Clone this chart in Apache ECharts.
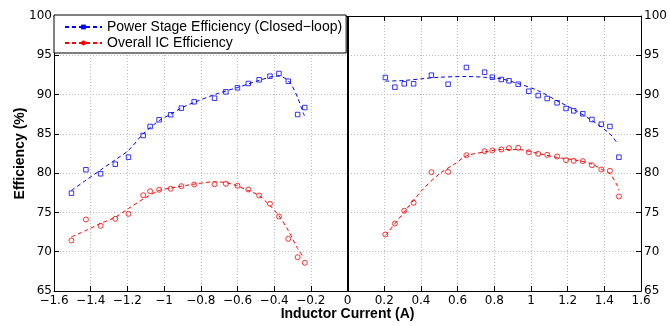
<!DOCTYPE html>
<html>
<head>
<meta charset="utf-8">
<script src="https://cdn.jsdelivr.net/npm/echarts@6/dist/echarts.min.js"></script>
<style>
  html, body { margin: 0; padding: 0; background: #fff; }
  #chart { width: 670px; height: 326px; }
</style>
</head>
<body>
<div id="chart"></div>
<script>
// ---- data ----
const seriesNames = ['Power Stage Efficiency (Closed\u2212loop)', 'Overall IC Efficiency'];

const leftCurrent = [-1.505, -1.426, -1.346, -1.266, -1.194, -1.114, -1.076, -1.027, -0.964, -0.906, -0.836, -0.725, -0.663, -0.600, -0.541, -0.482, -0.423, -0.374, -0.323, -0.272, -0.233];
const powerStageLeft = [77.45, 80.43, 79.92, 81.14, 82.03, 84.79, 85.94, 86.79, 87.43, 88.27, 89.08, 89.54, 90.35, 90.86, 91.41, 91.88, 92.34, 92.68, 91.70, 87.46, 88.35];
const overallLeft = [71.43, 74.10, 73.30, 74.19, 74.82, 77.19, 77.70, 77.88, 78.01, 78.34, 78.55, 78.59, 78.64, 78.39, 77.92, 77.15, 76.10, 74.48, 71.64, 69.30, 68.59];

const rightCurrent = [0.206, 0.258, 0.309, 0.360, 0.457, 0.548, 0.648, 0.747, 0.789, 0.838, 0.880, 0.930, 0.988, 1.039, 1.088, 1.142, 1.191, 1.233, 1.282, 1.332, 1.383, 1.430, 1.479];
const powerStageRight = [92.17, 90.94, 91.37, 91.37, 92.47, 91.32, 93.45, 92.85, 92.21, 91.92, 91.75, 91.32, 90.43, 89.88, 89.50, 88.95, 88.23, 87.93, 87.55, 86.83, 86.23, 85.94, 82.03];
const overallRight = [72.19, 73.59, 75.21, 76.23, 80.12, 80.17, 82.28, 82.79, 82.88, 83.01, 83.18, 83.23, 82.67, 82.46, 82.33, 82.12, 81.65, 81.57, 81.52, 81.01, 80.46, 80.30, 77.03];

// dashed fit curves
const powerFitLeftX = [-1.505, -1.426, -1.346, -1.266, -1.194, -1.114, -1.026, -0.964, -0.906, -0.836, -0.725, -0.600, -0.482, -0.410, -0.374, -0.330, -0.300, -0.270, -0.250, -0.235];
const powerFitLeftY = [77.8, 79.1, 80.4, 81.7, 82.9, 85.0, 86.7, 87.5, 88.3, 89.0, 90.0, 90.9, 91.8, 92.3, 92.35, 91.9, 91.0, 89.5, 88.2, 87.3];
const overallFitLeftX = [-1.505, -1.426, -1.346, -1.266, -1.194, -1.114, -1.026, -0.964, -0.836, -0.725, -0.663, -0.604, -0.542, -0.486, -0.424, -0.375, -0.323, -0.272, -0.240];
const overallFitLeftY = [71.9, 72.7, 73.6, 74.4, 75.5, 76.7, 77.8, 78.1, 78.6, 78.9, 78.8, 78.4, 77.8, 77.2, 75.9, 74.6, 72.7, 70.4, 69.3];
const powerFitRightX = [0.206, 0.309, 0.400, 0.500, 0.648, 0.747, 0.838, 0.930, 1.039, 1.142, 1.233, 1.332, 1.430, 1.470];
const powerFitRightY = [91.7, 91.8, 92.0, 92.2, 92.3, 92.2, 92.0, 91.4, 90.5, 89.2, 88.1, 86.7, 85.0, 83.8];
const overallFitRightX = [0.208, 0.307, 0.405, 0.500, 0.592, 0.648, 0.747, 0.838, 0.930, 1.039, 1.142, 1.233, 1.328, 1.380, 1.430, 1.466, 1.479];
const overallFitRightY = [72.1, 75.0, 77.8, 79.9, 81.3, 82.2, 82.7, 83.0, 83.0, 82.5, 82.0, 81.7, 81.2, 80.55, 79.9, 78.6, 77.8];

const xTicks = { min: -1.6, max: 1.6, step: 0.2 };
const yTicks = { min: 65, max: 100, step: 5 };

// ---- helpers ----
const pairs = (xs, ys) => xs.map((x, i) => [x, ys[i]]);
const BLUE = '#0000ff', RED = '#ff0000';
const FONT = "'Liberation Sans', Arial, Helvetica, sans-serif";
const TICKFONT = "'DejaVu Sans', 'Liberation Sans', sans-serif";
const fmtX = v => { const r = Math.round(v * 10) / 10; return (r < 0 ? '\u2212' : '') + Math.abs(r); };

function fitSeries(name, data, color, symbol) {
  return {
    name, type: 'line', data, smooth: 0.3,
    symbol, showSymbol: false, symbolSize: 5,
    lineStyle: { color, width: 1, type: [4, 3] },
    itemStyle: { color, borderColor: color },
    silent: true, animation: false, z: 2
  };
}
function pointSeries(name, data, color, symbol, size) {
  return {
    name, type: 'scatter', data, symbol, symbolSize: size,
    itemStyle: { color: 'rgba(0,0,0,0)', borderColor: color, borderWidth: 1 },
    silent: true, animation: false, z: 3
  };
}

const chart = echarts.init(document.getElementById('chart'), null, { renderer: 'canvas' });

const axisCommon = {
  type: 'value',
  axisLine: { show: true, onZero: false, lineStyle: { color: '#000', width: 1 } },
  axisTick: { show: true, inside: true, length: 5, lineStyle: { color: '#000', width: 1 } },
  axisLabel: { color: '#000', fontSize: 12, fontFamily: TICKFONT },
};

chart.setOption({
  animation: false,
  backgroundColor: '#fff',
  textStyle: { fontFamily: FONT },
  grid: { left: 54, right: 27, top: 16, bottom: 35, containLabel: false },
  legend: {
    data: seriesNames,
    orient: 'vertical', left: 54, top: 15,
    backgroundColor: '#fff', borderColor: '#000', borderWidth: 1, borderRadius: 0,
    padding: [5, 4, 3, 10], itemGap: 2, itemWidth: 37, itemHeight: 6,
    textStyle: { color: '#000', fontSize: 14, fontFamily: FONT, lineHeight: 14 },
    z: 10
  },
  xAxis: [
    Object.assign({}, axisCommon, {
      position: 'bottom', min: xTicks.min, max: xTicks.max, interval: xTicks.step,
      axisLabel: Object.assign({}, axisCommon.axisLabel, { formatter: fmtX, margin: 4 }),
      splitLine: { show: true, lineStyle: { color: '#bdbdbd', width: 1, type: [1, 2] } },
      name: 'Inductor Current (A)', nameLocation: 'middle', nameGap: 16, nameMoveOverlap: false,
      nameTextStyle: { color: '#000', fontSize: 14, fontWeight: 'bold', fontFamily: FONT }
    }),
    Object.assign({}, axisCommon, {
      position: 'top', min: xTicks.min, max: xTicks.max, interval: xTicks.step,
      axisLabel: { show: false }, splitLine: { show: false }
    })
  ],
  yAxis: [
    Object.assign({}, axisCommon, {
      position: 'left', min: yTicks.min, max: yTicks.max, interval: yTicks.step,
      axisLabel: Object.assign({}, axisCommon.axisLabel, { margin: 2 }),
      splitLine: { show: true, lineStyle: { color: '#bdbdbd', width: 1, type: [1, 2] } },
      name: 'Efficiency (%)', nameLocation: 'middle', nameGap: 27, nameRotate: 90, nameMoveOverlap: false,
      nameTextStyle: { color: '#000', fontSize: 14, fontWeight: 'bold', fontFamily: FONT }
    }),
    Object.assign({}, axisCommon, {
      position: 'right', min: yTicks.min, max: yTicks.max, interval: yTicks.step,
      axisLabel: Object.assign({}, axisCommon.axisLabel, { margin: 3 }),
      splitLine: { show: false }
    })
  ],
  series: [
    Object.assign(fitSeries(seriesNames[0], pairs(powerFitLeftX, powerFitLeftY), BLUE, 'rect'), {
      markLine: {
        silent: true, symbol: ['none', 'none'], label: { show: false },
        lineStyle: { color: '#000', width: 2, type: 'solid' },
        data: [{ xAxis: 0 }]
      }
    }),
    fitSeries(seriesNames[0], pairs(powerFitRightX, powerFitRightY), BLUE, 'rect'),
    fitSeries(seriesNames[1], pairs(overallFitLeftX, overallFitLeftY), RED, 'circle'),
    fitSeries(seriesNames[1], pairs(overallFitRightX, overallFitRightY), RED, 'circle'),
    pointSeries(seriesNames[0], pairs(leftCurrent, powerStageLeft).concat(pairs(rightCurrent, powerStageRight)), BLUE, 'rect', 4.5),
    pointSeries(seriesNames[1], pairs(leftCurrent, overallLeft).concat(pairs(rightCurrent, overallRight)), RED, 'circle', 5)
  ]
});
</script>
</body>
</html>
